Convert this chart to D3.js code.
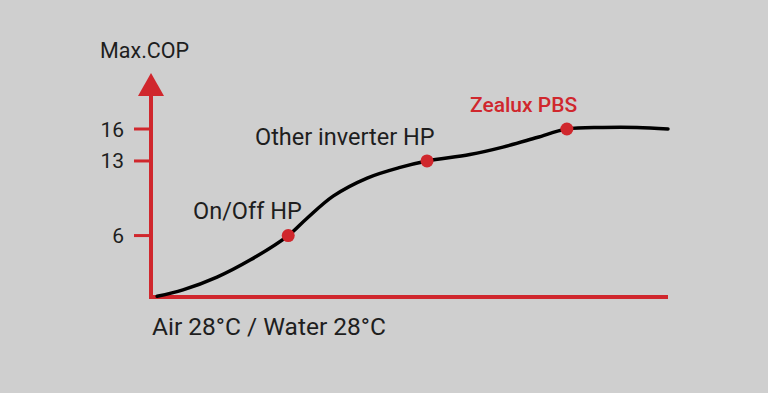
<!DOCTYPE html>
<html>
<head>
<meta charset="utf-8">
<script src="https://cdn.jsdelivr.net/npm/d3@7"></script>
<style>
  html, body { margin: 0; padding: 0; background: #cfcfcf; }
  svg { display: block; font-family: Roboto, "Noto Sans", sans-serif; }
</style>
</head>
<body>
<script>
// curve (x: 0..100 along the axis, y: COP)
const curveX = [1, 6.0, 12.6, 19.0, 26.4, 30.0, 35.1, 41.7, 48.1, 53.3, 61.6, 68.0, 74.6, 80.4, 87.4, 94.0, 100];
const curveY = [0.3, 0.9, 2.1, 3.7, 6.0, 7.6, 9.7, 11.4, 12.4, 13.0, 13.6, 14.3, 15.2, 16.0, 16.15, 16.15, 16.0];

const pointNames = ["On/Off HP", "Other inverter HP", "Zealux PBS"];
const pointX = [26.4, 53.3, 80.4];
const pointY = [6, 13, 16];

const yTicks = [6, 13, 16];
const yTitle = "Max.COP";
const xTitle = "Air 28°C / Water 28°C";

function draw() {
  const W = 768, H = 393;
  const red = "#d0272d";
  const ink = "#1e1e1e";

  const svg = d3.select("body").append("svg")
    .attr("width", W)
    .attr("height", H);

  const x = d3.scaleLinear().domain([0, 100]).range([152, 668]);
  const y = d3.scaleLinear().domain([0, 16]).range([299.5, 129]);

  const axisY = 297;

  // y axis + arrow
  svg.append("line")
    .attr("x1", x(0) - 1).attr("x2", x(0) - 1)
    .attr("y1", axisY + 2).attr("y2", 92)
    .attr("stroke", red).attr("stroke-width", 4);
  svg.append("path")
    .attr("d", `M${x(0) - 1},73 L${x(0) - 14},96 L${x(0) + 12},96 Z`)
    .attr("fill", red);

  // x axis
  svg.append("line")
    .attr("x1", x(0) - 3).attr("x2", x(100))
    .attr("y1", axisY).attr("y2", axisY)
    .attr("stroke", red).attr("stroke-width", 4);

  // ticks
  const tk = svg.selectAll(".tk").data(yTicks).join("g").attr("class", "tk");
  tk.append("line")
    .attr("x1", x(0) - 18).attr("x2", x(0) - 1)
    .attr("y1", d => y(d)).attr("y2", d => y(d))
    .attr("stroke", red).attr("stroke-width", 3);
  tk.append("text")
    .attr("x", x(0) - 28)
    .attr("y", d => y(d) + 7.5)
    .attr("text-anchor", "end")
    .attr("font-size", 21)
    .attr("fill", ink)
    .text(d => d);

  // titles
  svg.append("text")
    .attr("x", 100).attr("y", 58)
    .attr("font-size", 21.5).attr("fill", ink)
    .text(yTitle);
  svg.append("text")
    .attr("x", 152).attr("y", 335)
    .attr("font-size", 24.5).attr("fill", ink)
    .text(xTitle);

  // curve
  const pts = curveX.map((v, i) => [v, curveY[i]]);
  const line = d3.line()
    .x(d => x(d[0]))
    .y(d => y(d[1]))
    .curve(d3.curveCatmullRom.alpha(0.5));
  svg.append("path")
    .attr("d", line(pts))
    .attr("fill", "none")
    .attr("stroke", "#000")
    .attr("stroke-width", 3.5)
    .attr("stroke-linecap", "round");

  // points
  svg.selectAll(".pt")
    .data(pointX)
    .join("circle")
    .attr("class", "pt")
    .attr("cx", d => x(d))
    .attr("cy", (d, i) => y(pointY[i]))
    .attr("r", 6.5)
    .attr("fill", red);

  // point labels
  const labX = [193, 255, 470];
  const labY = [219, 145, 112];
  svg.selectAll(".lab")
    .data(pointNames)
    .join("text")
    .attr("class", "lab")
    .attr("x", (d, i) => labX[i])
    .attr("y", (d, i) => labY[i])
    .attr("font-size", (d, i) => i === 2 ? 21 : 23.5)
    .attr("font-weight", (d, i) => i === 2 ? 500 : 400)
    .attr("fill", (d, i) => i === 2 ? red : ink)
    .text(d => d);
}

draw();
</script>
</body>
</html>
